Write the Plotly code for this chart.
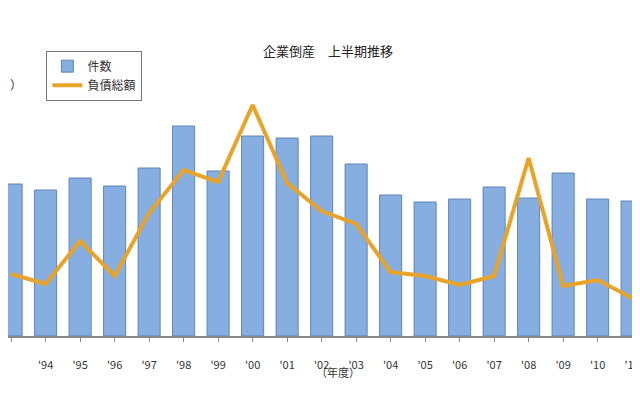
import plotly.graph_objects as go

years = ["'93", "'94", "'95", "'96", "'97", "'98", "'99", "'00", "'01", "'02",
         "'03", "'04", "'05", "'06", "'07", "'08", "'09", "'10", "'11", "'12"]
# values (relative scale, axes not visible in the crop)
counts = [152, 146, 158, 150, 168, 210, 165, 200, 198, 200,
          172, 141, 134, 137, 149, 138, 163, 137, 135, 0]
debt = [62, 52, 95, 60, 123, 166, 154, 231, 153, 125,
        112, 64, 60, 51, 60, 178, 50, 56, 38, 37]

fig = go.Figure()
fig.add_trace(go.Bar(
    x=list(range(len(years))), y=counts, name="件数", width=0.64,
    marker=dict(color="#86aee0", line=dict(color="#5f86b8", width=1)),
))
fig.add_trace(go.Scatter(
    x=list(range(len(years))), y=debt, name="負債総額", mode="lines",
    line=dict(color="#e8a328", width=4),
))

fig.add_annotation(x=0.5, y=0.87, xref="paper", yref="paper", yanchor="middle",
                   text="企業倒産　上半期推移", showarrow=False,
                   font=dict(size=13, color="#222"))
fig.add_annotation(x=0.516, y=-0.14, xref="paper", yref="paper",
                   text="（年度）", showarrow=False, font=dict(size=11, color="#333"))
fig.add_annotation(x=0.0, y=0.8, xref="paper", yref="paper", xanchor="left",
                   text="）", showarrow=False, font=dict(size=12, color="#333"))

fig.update_layout(
    width=640, height=400,
    margin=dict(l=0, r=0, t=0, b=72, autoexpand=False),
    paper_bgcolor="white", plot_bgcolor="white",
    font=dict(family="Noto Sans CJK JP", size=11, color="#333"),
    showlegend=True,
    legend=dict(x=0.06, y=0.87, xanchor="left", yanchor="top",
                bordercolor="#777", borderwidth=1, bgcolor="white",
                font=dict(size=12), tracegroupgap=0),
    bargap=0.3,
)
fig.update_xaxes(
    range=[-0.09, 18.46], tickmode="array",
    tickvals=list(range(len(years))), ticktext=years,
    showline=True, linecolor="#888", linewidth=1.5,
    ticks="outside", tickson="boundaries", ticklen=4, tickcolor="#888",
    showgrid=False, ticklabelstandoff=14, tickfont=dict(size=11),
    automargin=False,
)
fig.update_yaxes(range=[0, 328], visible=False, automargin=False)

fig.write_html("out.html")
